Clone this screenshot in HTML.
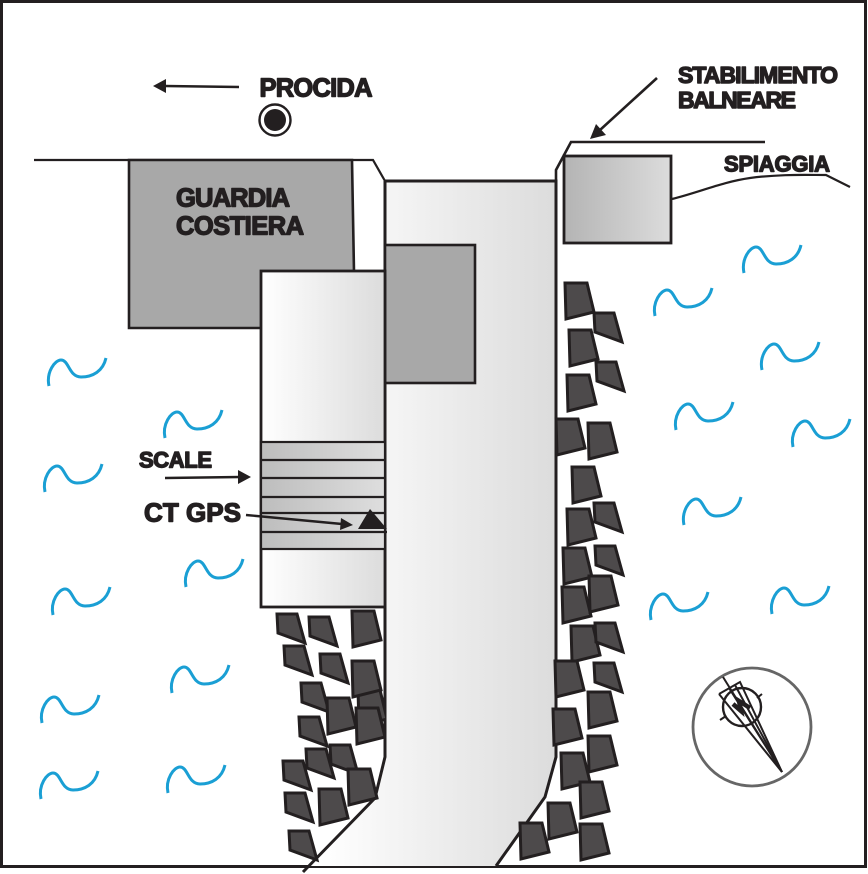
<!DOCTYPE html>
<html><head><meta charset="utf-8"><style>
html,body{margin:0;padding:0;background:#fff;width:868px;height:874px;overflow:hidden}
svg{display:block}
text{font-family:"Liberation Sans",sans-serif;font-weight:bold;fill:#231f20;stroke:#231f20;stroke-width:1.4px;stroke-linejoin:round}
</style></head><body>
<svg width="868" height="874" viewBox="0 0 868 874" xmlns="http://www.w3.org/2000/svg">
<defs>
<linearGradient id="pier" gradientUnits="userSpaceOnUse" x1="320" y1="0" x2="556" y2="0"><stop offset="0" stop-color="#fff"/><stop offset="1" stop-color="#dcdcdc"/></linearGradient>
<linearGradient id="pont" gradientUnits="userSpaceOnUse" x1="261" y1="0" x2="385" y2="0"><stop offset="0" stop-color="#fff"/><stop offset="1" stop-color="#dcdcdc"/></linearGradient>
<linearGradient id="scale" gradientUnits="userSpaceOnUse" x1="261" y1="0" x2="385" y2="0"><stop offset="0" stop-color="#bdbdbd"/><stop offset="1" stop-color="#dedede"/></linearGradient>
<linearGradient id="stab" gradientUnits="userSpaceOnUse" x1="564" y1="0" x2="671" y2="0"><stop offset="0" stop-color="#b4b4b4"/><stop offset="1" stop-color="#dcdcdc"/></linearGradient>
<clipPath id="lc"><rect x="0" y="600" width="386" height="274"/></clipPath>
<polygon id="a" points="1,0 23,0 30,29 2,36" fill="#4d4a4b" stroke="#231f20" stroke-width="3"/>
<polygon id="b" points="1,0 21,0 29,29 2,19" fill="#4d4a4b" stroke="#231f20" stroke-width="3"/>
<path id="w" d="M1,0 C-2,-14 7,-26 13,-26 C21,-26 21,-9 33,-9 C45,-9 55,-15 58,-28" fill="none" stroke="#1a9fd4" stroke-width="3"/>
</defs>

<rect x="1.5" y="1.5" width="864" height="865" fill="#fff" stroke="#231f20" stroke-width="3"/>

<!-- coast -->
<path d="M34,160 H373 L385,181" fill="none" stroke="#231f20" stroke-width="2.2"/>
<path d="M556,181 V170 L571,142 H765" fill="none" stroke="#231f20" stroke-width="2.6"/>

<!-- guardia -->
<polygon points="129,160 352,160 354,272 354,328 129,328" fill="#a8a8a8" stroke="#231f20" stroke-width="2.6"/>

<!-- pier -->
<polygon points="385,181 556,181 556,757 545,797 496,866 310,866 375,798 385,757" fill="url(#pier)"/>
<path d="M385,181 H556 V757 L545,797 L496,866" fill="none" stroke="#231f20" stroke-width="3"/>
<path d="M385,181 V757 L375,798 L303,872" fill="none" stroke="#231f20" stroke-width="3"/>
<rect x="385" y="245" width="90" height="138" fill="#a8a8a8" stroke="#231f20" stroke-width="2.6"/>

<!-- pontoon -->
<rect x="261" y="271" width="124" height="336" fill="url(#pont)" stroke="#231f20" stroke-width="2.8"/>
<rect x="261" y="442" width="124" height="107" fill="url(#scale)" stroke="#231f20" stroke-width="2.2"/>
<path d="M261,460 H385 M261,478 H385 M261,497 H385 M261,513 H385 M261,532 H387" stroke="#231f20" stroke-width="2.2" fill="none"/>
<polygon points="370,509 358,529 387,529" fill="#231f20"/>

<!-- stabilimento -->
<rect x="564" y="156" width="107" height="87" fill="url(#stab)" stroke="#231f20" stroke-width="2.8"/>
<path d="M672,199 C700,192 722,182 750,178 C780,174 805,175 826,175 L850,187" fill="none" stroke="#231f20" stroke-width="2.2"/>

<!-- left rocks -->
<g clip-path="url(#lc)">
<use href="#b" x="276" y="614"/><use href="#b" x="308" y="617"/><use href="#a" x="351" y="611"/>
<use href="#b" x="283" y="646"/><use href="#b" x="319" y="654"/>
<use href="#a" x="357" y="690"/><use href="#a" x="351" y="661"/>
<use href="#b" x="300" y="683"/><use href="#a" x="326" y="698"/><use href="#a" x="355" y="708"/>
<use href="#b" x="298" y="717"/><use href="#b" x="329" y="745"/><use href="#b" x="305" y="749"/>
<use href="#b" x="282" y="761"/><use href="#a" x="347" y="769"/><use href="#b" x="284" y="793"/>
<use href="#a" x="318" y="789"/><use href="#b" x="288" y="831"/>
</g>

<!-- right rocks -->
<use href="#a" x="564" y="283"/><use href="#b" x="593" y="313"/><use href="#a" x="568" y="330"/>
<use href="#b" x="595" y="362"/><use href="#a" x="566" y="375"/><use href="#a" x="555" y="419"/>
<use href="#a" x="587" y="423"/><use href="#a" x="571" y="467"/><use href="#a" x="566" y="509"/>
<use href="#b" x="593" y="503"/><use href="#a" x="562" y="548"/><use href="#b" x="594" y="546"/>
<use href="#a" x="561" y="587"/><use href="#a" x="588" y="576"/><use href="#a" x="570" y="626"/>
<use href="#b" x="594" y="623"/><use href="#a" x="554" y="661"/><use href="#b" x="593" y="663"/>
<use href="#a" x="587" y="692"/><use href="#a" x="552" y="709"/><use href="#a" x="587" y="736"/>
<use href="#a" x="560" y="753"/><use href="#a" x="579" y="782"/><use href="#a" x="547" y="803"/>
<use href="#a" x="519" y="823"/><use href="#a" x="579" y="824"/>

<!-- waves -->
<use href="#w" x="654" y="316"/><use href="#w" x="743" y="273"/><use href="#w" x="761" y="370"/>
<use href="#w" x="675" y="430"/><use href="#w" x="792" y="447"/><use href="#w" x="683" y="525"/>
<use href="#w" x="650" y="620"/><use href="#w" x="771" y="614"/><use href="#w" x="48" y="386"/>
<use href="#w" x="164" y="438"/><use href="#w" x="44" y="492"/><use href="#w" x="185" y="587"/>
<use href="#w" x="52" y="615"/><use href="#w" x="171" y="693"/><use href="#w" x="41" y="723"/>
<use href="#w" x="40" y="799"/><use href="#w" x="167" y="793"/>

<!-- arrows -->
<path d="M239,87 L165,86" stroke="#231f20" stroke-width="2.4" fill="none"/>
<polygon points="153,86 166,79 166,93" fill="#231f20"/>
<path d="M657,78 L600,130" stroke="#231f20" stroke-width="2.6" fill="none"/>
<polygon points="590,139 596,124 606,135" fill="#231f20"/>
<path d="M165,478 L240,477" stroke="#231f20" stroke-width="2.4" fill="none"/>
<polygon points="251,477 238,470 238,484" fill="#231f20"/>
<path d="M246,515 L342,524" stroke="#231f20" stroke-width="2.4" fill="none"/>
<polygon points="353,525 341,518 340,530" fill="#231f20"/>

<!-- procida target -->
<circle cx="275" cy="120" r="15.5" fill="#fff" stroke="#231f20" stroke-width="2.4"/>
<circle cx="275" cy="120" r="11" fill="#231f20"/>

<!-- compass -->
<circle cx="752" cy="727" r="59" fill="#fff" stroke="#666" stroke-width="2.8"/>
<g fill="none" stroke="#231f20" stroke-width="2">
<circle cx="742" cy="707" r="19" stroke-width="2.4"/>
<path d="M723,677 L782,772"/>
<path d="M719,694 L740,682 L782,772 L719,694"/>
<path d="M729,688 L782,772 M735,685 L782,772"/>
<path d="M762,694 L757,698 M720,720 L726,716"/>
<path d="M733,704 L741,711 L739,701 L750,708" stroke-width="4.5"/>
</g>

<!-- labels -->
<text x="259.5" y="96.5" font-size="25.5" textLength="113" lengthAdjust="spacing">PROCIDA</text>
<text x="176" y="206.5" font-size="25.5" textLength="114" lengthAdjust="spacing">GUARDIA</text>
<text x="176" y="234.5" font-size="25.5" textLength="128" lengthAdjust="spacing">COSTIERA</text>
<text x="678" y="83" font-size="23" textLength="160" lengthAdjust="spacing">STABILIMENTO</text>
<text x="678" y="108" font-size="23" textLength="118" lengthAdjust="spacing">BALNEARE</text>
<text x="724" y="171.5" font-size="22" textLength="106" lengthAdjust="spacing">SPIAGGIA</text>
<text x="139" y="467.5" font-size="22" textLength="73" lengthAdjust="spacing">SCALE</text>
<text x="144" y="521.5" font-size="26" textLength="97" lengthAdjust="spacing">CT GPS</text>
</svg>
</body></html>
